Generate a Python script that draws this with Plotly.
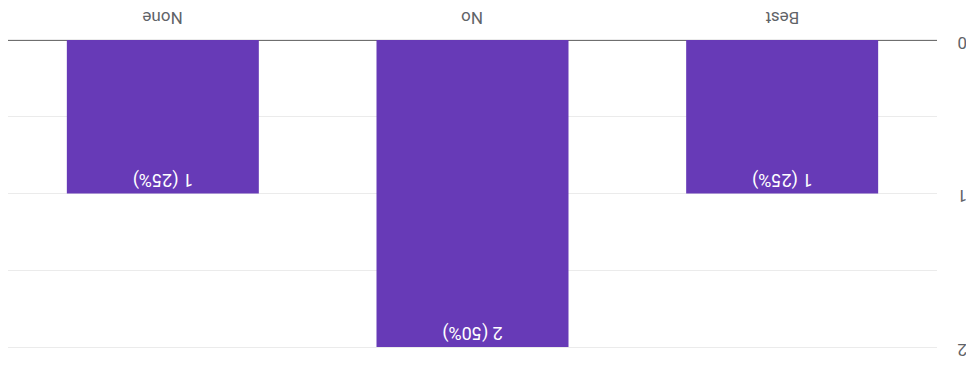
import plotly.graph_objects as go

categories = ["None", "No", "Best"]
counts = [1, 2, 1]
labels = ["1 (25%)", "2 (50%)", "1 (25%)"]
y_gridvals = [0, 0.5, 1, 1.5, 2]
y_labelvals = [0, 1, 2]
y_labeltext = ["0", "1", "2"]

LABEL_COLOR = "#5f6368"
FONT = "Roboto"

fig = go.Figure(go.Bar(
    x=categories, y=counts, text=labels,
    marker=dict(color="#673ab7", line=dict(width=0)),
    textposition="inside", insidetextanchor="end", textangle=180,
    insidetextfont=dict(color="white", size=18, family=FONT),
    cliponaxis=False,
))

# upside-down category labels above the plot
for c in categories:
    fig.add_annotation(x=c, xref="x", y=1, yref="paper", yshift=22,
                       text=c, showarrow=False, textangle=180,
                       xanchor="center", yanchor="middle",
                       font=dict(size=17, color=LABEL_COLOR, family=FONT))
# upside-down value labels at the right
for v, t in zip(y_labelvals, y_labeltext):
    fig.add_annotation(x=1, xref="paper", xshift=25, y=v, yref="y", yshift=-3,
                       text=t, showarrow=False, textangle=180,
                       xanchor="center", yanchor="middle",
                       font=dict(size=17, color=LABEL_COLOR, family=FONT))

# page body adds an 8px margin, so the figure is sized to fit the window
fig.update_layout(
    width=966, height=357,
    margin=dict(l=0, r=37, t=32, b=18, autoexpand=False),
    paper_bgcolor="white", plot_bgcolor="white",
    bargap=0.38, showlegend=False,
    font=dict(family=FONT, size=14, color=LABEL_COLOR),
)
fig.update_xaxes(
    showticklabels=False, showline=True, mirror=True, linecolor="#ebebeb",
    showgrid=False, ticks="", automargin=False,
)
fig.update_yaxes(
    autorange=False, range=[2, 0], tickvals=y_gridvals, showticklabels=False,
    showgrid=True, gridcolor="#ebebeb",
    zeroline=True, zerolinecolor="#6f6f6f", zerolinewidth=1.5,
    showline=False, ticks="", automargin=False,
)
fig.write_html("out.html")
